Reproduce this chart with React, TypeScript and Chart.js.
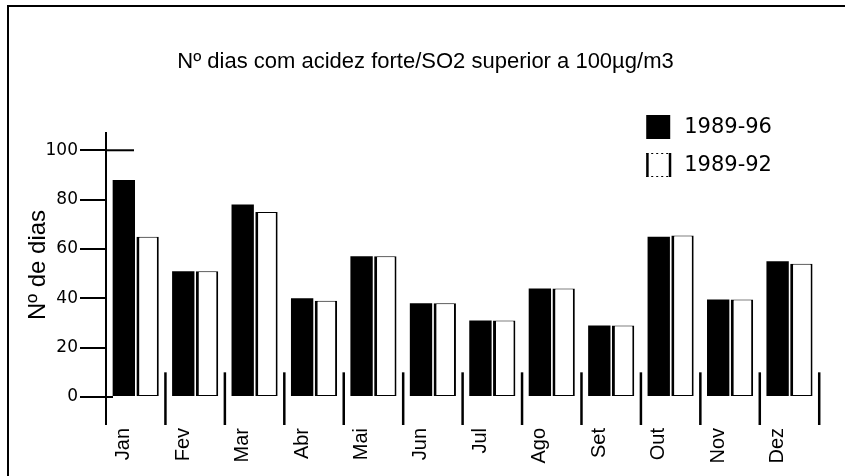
import React, { useEffect, useRef } from "react";
import { Chart, registerables } from "chart.js";

Chart.register(...registerables);

const TITLE = "Nº dias com acidez forte/SO2 superior a 100µg/m3";
const Y_TITLE = "Nº de dias";
const MONTHS = ["Jan", "Fev", "Mar", "Abr", "Mai", "Jun", "Jul", "Ago", "Set", "Out", "Nov", "Dez"];
const SERIES_A_LABEL = "1989-96";
const SERIES_B_LABEL = "1989-92";
const DAYS_1989_96 = [88, 51, 78, 40, 57, 38, 31, 44, 29, 65, 39.5, 55];
const DAYS_1989_92 = [65, 51, 75, 39, 57, 38, 31, 44, 29, 65.5, 39.5, 54];
const Y_TICKS = [0, 20, 40, 60, 80, 100];
const Y_MIN = 0;
const Y_MAX = 107;
const SEPARATOR_TOP_VALUE = 10;

const decorPlugin = {
  id: "decor",
  afterDatasetsDraw(chart: any) {
    const { ctx, chartArea } = chart;
    const xs = chart.scales.x;
    const ys = chart.scales.y;
    const y0 = ys.getPixelForValue(0);
    const bottomExt = y0 + 28;
    const catW = xs.getPixelForValue(1) - xs.getPixelForValue(0);
    ctx.save();
    ctx.strokeStyle = "#000";
    ctx.lineCap = "butt";
    // y axis extension below zero
    ctx.lineWidth = 2;
    ctx.beginPath();
    ctx.moveTo(chartArea.left, y0);
    ctx.lineTo(chartArea.left, bottomExt);
    ctx.stroke();
    // 100 tick crossing the axis
    const y100 = ys.getPixelForValue(100);
    ctx.beginPath();
    ctx.moveTo(chartArea.left, y100);
    ctx.lineTo(chartArea.left + 28, y100);
    ctx.stroke();
    // 0 tick continuation
    ctx.beginPath();
    ctx.moveTo(chartArea.left, y0);
    ctx.lineTo(chartArea.left + 7, y0);
    ctx.stroke();
    // category separators
    ctx.lineWidth = 2.5;
    const sepTop = ys.getPixelForValue(SEPARATOR_TOP_VALUE);
    for (let i = 0; i < MONTHS.length; i++) {
      const bx = xs.getPixelForValue(i) + catW / 2;
      ctx.beginPath();
      ctx.moveTo(bx, sepTop);
      ctx.lineTo(bx, bottomExt);
      ctx.stroke();
    }
    ctx.restore();
  },
  afterDraw(chart: any) {
    const { ctx, chartArea } = chart;
    const ds = chart.data.datasets;
    const boxX = chartArea.right - 173;
    const rows = [chartArea.top - 18, chartArea.top + 20];
    ctx.save();
    ctx.font = "21px 'DejaVu Sans'";
    ctx.textBaseline = "middle";
    ctx.fillStyle = "#000";
    ds.forEach((d: any, i: number) => {
      const top = rows[i];
      if (i === 0) {
        ctx.fillStyle = d.backgroundColor;
        ctx.fillRect(boxX, top, 24, 24);
      } else {
        ctx.fillStyle = "#fff";
        ctx.fillRect(boxX, top, 25, 24);
        ctx.strokeStyle = "#000";
        ctx.lineWidth = 2.5;
        ctx.beginPath();
        ctx.moveTo(boxX + 1.2, top);
        ctx.lineTo(boxX + 1.2, top + 24);
        ctx.moveTo(boxX + 23.8, top);
        ctx.lineTo(boxX + 23.8, top + 24);
        ctx.stroke();
        ctx.lineWidth = 1;
        ctx.setLineDash([2, 3]);
        ctx.beginPath();
        ctx.moveTo(boxX, top + 0.5);
        ctx.lineTo(boxX + 25, top + 0.5);
        ctx.moveTo(boxX, top + 23.5);
        ctx.lineTo(boxX + 25, top + 23.5);
        ctx.stroke();
        ctx.setLineDash([]);
      }
      ctx.fillStyle = "#000";
      ctx.fillText(d.label, boxX + 38, top + 13);
    });
    ctx.restore();
  },
};

export default function App() {
  const ref = useRef<HTMLCanvasElement | null>(null);
  useEffect(() => {
    if (!ref.current) return;
    const chart = new Chart(ref.current, {
      type: "bar",
      data: {
        labels: MONTHS,
        datasets: [
          {
            label: SERIES_A_LABEL,
            data: DAYS_1989_96,
            backgroundColor: "#000",
            borderWidth: 0,
            barPercentage: 0.94,
            categoryPercentage: 0.8,
          },
          {
            label: SERIES_B_LABEL,
            data: DAYS_1989_92,
            backgroundColor: "#fff",
            borderColor: "#000",
            borderWidth: { left: 3, right: 2, top: 1, bottom: 1 },
            borderSkipped: false,
            barPercentage: 0.94,
            categoryPercentage: 0.8,
          },
        ],
      },
      options: {
        animation: false,
        responsive: false,
        devicePixelRatio: 1,
        layout: { padding: { left: 18, right: 12, top: 0, bottom: 0 } },
        plugins: {
          legend: { display: false },
          tooltip: { enabled: false },
          title: {
            display: true,
            text: TITLE,
            color: "#000",
            font: { family: "'Liberation Sans', Arial, sans-serif", size: 22, weight: "normal" },
            padding: { top: 49, bottom: 57.6 },
          },
        },
        scales: {
          x: {
            afterFit: (s: any) => {
              s.height = 79;
            },
            grid: { display: false, drawTicks: false },
            border: { display: false },
            ticks: {
              color: "#000",
              font: { family: "'Liberation Sans', Arial, sans-serif", size: 20 },
              minRotation: 90,
              maxRotation: 90,
              autoSkip: false,
              padding: 31,
              labelOffset: -12,
            },
          },
          y: {
            min: Y_MIN,
            max: Y_MAX,
            afterBuildTicks: (s: any) => {
              s.ticks = Y_TICKS.map((v) => ({ value: v }));
            },
            afterFit: (s: any) => {
              s.width = 88;
            },
            grid: { drawOnChartArea: false, drawTicks: true, tickLength: 26, color: "#000", lineWidth: 2 },
            border: { display: true, color: "#000", width: 2 },
            ticks: {
              color: "#000",
              font: { family: "'DejaVu Sans', sans-serif", size: 17 },
              padding: 2,
            },
            title: {
              display: true,
              text: Y_TITLE,
              color: "#000",
              font: { family: "'Liberation Sans', Arial, sans-serif", size: 24 },
              padding: { top: 6, bottom: 0 },
            },
          },
        },
      },
      plugins: [decorPlugin],
    });
    return () => chart.destroy();
  }, []);
  return (
    <div style={{ position: "absolute", left: 0, top: 0, width: 845, height: 476, background: "#fff" }}>
      <div
        style={{
          position: "absolute",
          left: 7,
          top: 5,
          width: 838,
          height: 471,
          borderTop: "2px solid #000",
          borderLeft: "2px solid #000",
          boxSizing: "border-box",
        }}
      />
      <canvas ref={ref} width={845} height={476} style={{ position: "absolute", left: 0, top: 0 }} />
    </div>
  );
}
